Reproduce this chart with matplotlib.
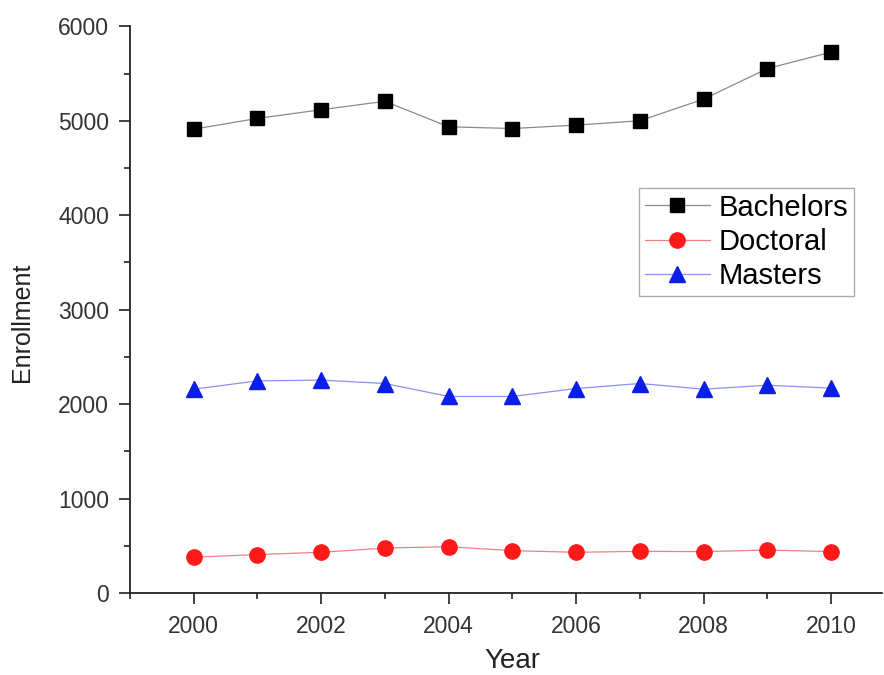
import matplotlib
matplotlib.use("Agg")
import matplotlib.pyplot as plt
from matplotlib.ticker import MultipleLocator

plt.rcParams['font.family'] = ['Liberation Sans', 'DejaVu Sans']

years = [2000, 2001, 2002, 2003, 2004, 2005, 2006, 2007, 2008, 2009, 2010]
bachelors = [4911, 5025, 5117, 5206, 4936, 4918, 4954, 5000, 5230, 5553, 5727]
doctoral = [379, 407, 431, 476, 490, 448, 431, 441, 438, 455, 438]
masters = [2158, 2246, 2254, 2218, 2081, 2081, 2165, 2218, 2158, 2200, 2169]

fig = plt.figure(figsize=(8.84, 6.75), dpi=100)
ax = fig.add_axes([0.147, 0.1215, 0.851, 0.8395])

ax.plot(years, bachelors, color='#8a8a8a', lw=0.9, marker='s', ms=10,
        mfc='black', mec='black', label='Bachelors')
ax.plot(years, doctoral, color='#f08080', lw=0.9, marker='o', ms=11,
        mfc='#ff1a1a', mec='#ff1a1a', label='Doctoral')
ax.plot(years, masters, color='#9090f0', lw=0.9, marker='^', ms=11,
        mfc='#0a1ee6', mec='#0a1ee6', label='Masters')

ax.set_xlim(1999, 2010.8)
ax.set_ylim(0, 6000)
ax.xaxis.set_major_locator(MultipleLocator(2))
ax.xaxis.set_minor_locator(MultipleLocator(1))
ax.yaxis.set_major_locator(MultipleLocator(1000))
ax.yaxis.set_minor_locator(MultipleLocator(500))

for s in ['top', 'right']:
    ax.spines[s].set_visible(False)
for s in ['left', 'bottom']:
    ax.spines[s].set_linewidth(1.3)
    ax.spines[s].set_color('#222222')

ax.tick_params(which='major', direction='out', length=8, width=1.2,
               labelsize=16.5, colors='#222222', labelcolor='#333333')
ax.tick_params(axis='y', which='major', pad=7)
ax.tick_params(axis='x', which='major', pad=8)
ax.tick_params(which='minor', direction='out', length=4.5, width=1.2, colors='#222222')

ax.set_xlabel('Year', fontsize=20, color='#222222')
ax.xaxis.set_label_coords(0.508, -0.097)
ax.set_ylabel('Enrollment', fontsize=18, color='#222222')
ax.yaxis.set_label_coords(-0.127, 0.478)

leg = ax.legend(loc='upper right', bbox_to_anchor=(0.963, 0.715), fontsize=21,
                frameon=True, fancybox=False, handlelength=2.25,
                borderpad=0.2, labelspacing=0.22, handletextpad=0.3,
                borderaxespad=0)
leg.get_frame().set_edgecolor('#999999')
leg.get_frame().set_linewidth(1.0)

fig.savefig('out.png', dpi=100)
